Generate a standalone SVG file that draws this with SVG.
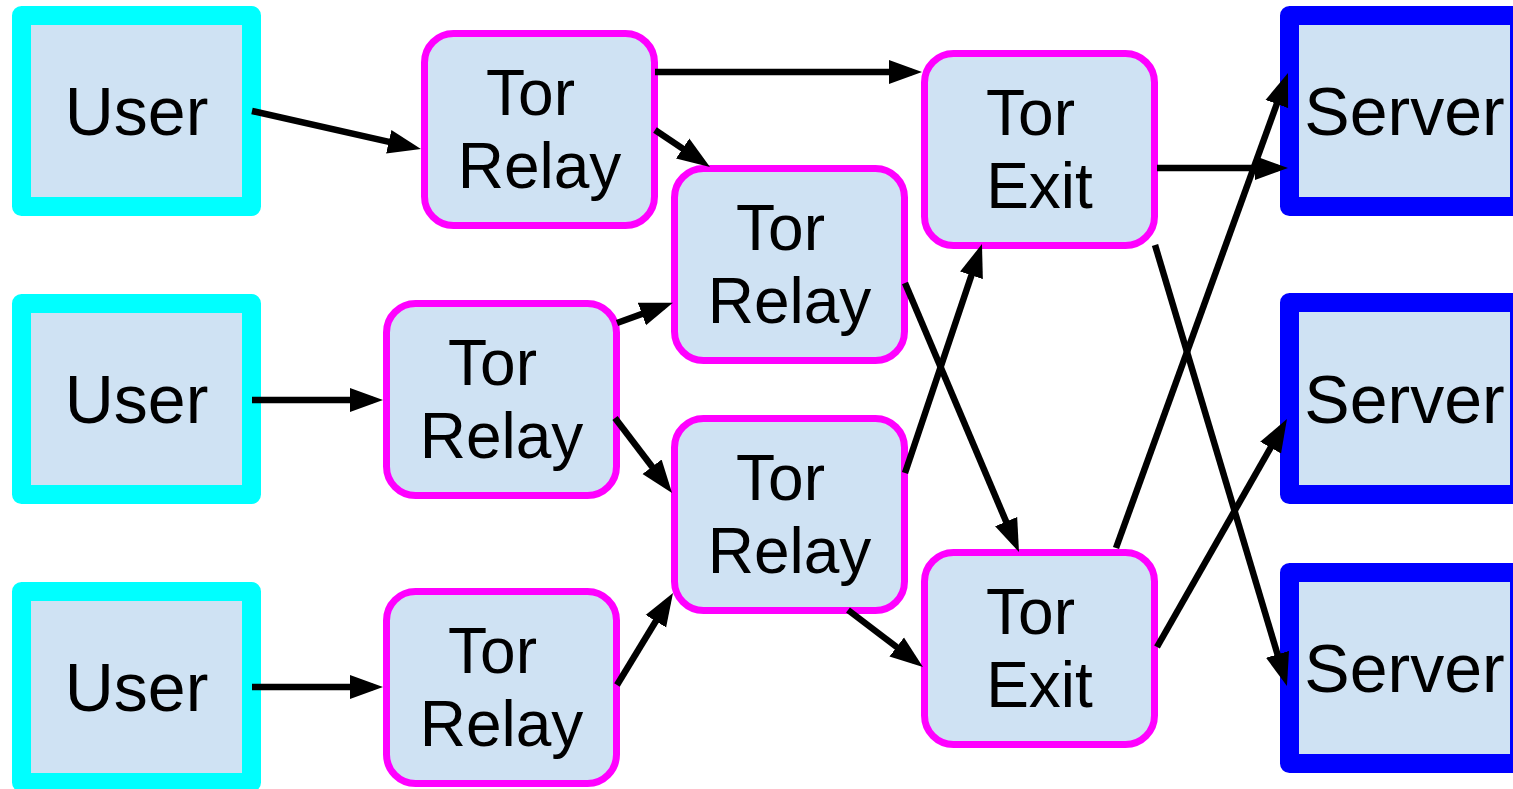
<svg xmlns="http://www.w3.org/2000/svg" width="1513" height="789" viewBox="0 0 1513 789">
  <style>
    .user { fill: #cfe2f3; stroke: #00ffff; stroke-width: 19; stroke-linejoin: round; }
    .server { fill: #cfe2f3; stroke: #0000ff; stroke-width: 19; stroke-linejoin: round; }
    .relay { fill: #cfe2f3; stroke: #ff00ff; stroke-width: 7; }
    .big { font-family: "Liberation Sans", Arial, sans-serif; font-size: 68px; fill: #000; text-anchor: middle; }
    .mid { font-family: "Liberation Sans", Arial, sans-serif; font-size: 64px; fill: #000; text-anchor: middle; }
    .link { fill: none; stroke: #000; stroke-width: 6.5; marker-end: url(#head); }
  </style>
  <defs>
    <!-- filled arrowhead; tip sits 10px past the end of each line -->
    <marker id="head" markerUnits="userSpaceOnUse" markerWidth="36" markerHeight="26" refX="23" refY="13" orient="auto">
      <path d="M0,1 L33,13 L0,25 Z" fill="#000"/>
    </marker>
  </defs>
  <rect width="1513" height="789" fill="#fff"/>

  <!-- users -->
  <g id="user1"><rect class="user" x="21.5" y="15.5" width="230" height="191"/><text class="big" x="136.5" y="135">User</text></g>
  <g id="user2"><rect class="user" x="21.5" y="303.5" width="230" height="191"/><text class="big" x="136.5" y="423">User</text></g>
  <g id="user3"><rect class="user" x="21.5" y="591.5" width="230" height="191"/><text class="big" x="136.5" y="711">User</text></g>

  <!-- relays -->
  <g id="relay1"><rect class="relay" x="424.5" y="33.5" width="230" height="192" rx="29"/><text class="mid" x="530.5" y="115">Tor</text><text class="mid" x="539.5" y="188">Relay</text></g>
  <g id="relay2"><rect class="relay" x="674.5" y="168.5" width="230" height="192" rx="29"/><text class="mid" x="780.5" y="250">Tor</text><text class="mid" x="789.5" y="323">Relay</text></g>
  <g id="relay3"><rect class="relay" x="386.5" y="303.5" width="230" height="192" rx="29"/><text class="mid" x="492.5" y="385">Tor</text><text class="mid" x="501.5" y="458">Relay</text></g>
  <g id="relay4"><rect class="relay" x="674.5" y="418.5" width="230" height="192" rx="29"/><text class="mid" x="780.5" y="500">Tor</text><text class="mid" x="789.5" y="573">Relay</text></g>
  <g id="relay5"><rect class="relay" x="386.5" y="591.5" width="230" height="192" rx="29"/><text class="mid" x="492.5" y="673">Tor</text><text class="mid" x="501.5" y="746">Relay</text></g>

  <!-- exits -->
  <g id="exit1"><rect class="relay" x="924.5" y="53.5" width="230" height="192" rx="29"/><text class="mid" x="1030.5" y="135">Tor</text><text class="mid" x="1039.5" y="208">Exit</text></g>
  <g id="exit2"><rect class="relay" x="924.5" y="552.5" width="230" height="192" rx="29"/><text class="mid" x="1030.5" y="634">Tor</text><text class="mid" x="1039.5" y="707">Exit</text></g>

  <!-- servers -->
  <g id="server1"><rect class="server" x="1289.5" y="15.5" width="230" height="191"/><text class="big" x="1404.5" y="135">Server</text></g>
  <g id="server2"><rect class="server" x="1289.5" y="302.5" width="230" height="192"/><text class="big" x="1404.5" y="423">Server</text></g>
  <g id="server3"><rect class="server" x="1289.5" y="572.5" width="230" height="191"/><text class="big" x="1404.5" y="692">Server</text></g>

  <!-- connectors -->
  <g id="connectors">
    <path class="link" d="M252,111 L411.2,146.8"/>
    <path class="link" d="M252,400 L373,400"/>
    <path class="link" d="M252,687 L373,687"/>
    <path class="link" d="M655,72 L912,72"/>
    <path class="link" d="M655,130 L701.7,161.4"/>
    <path class="link" d="M617,323 L663.5,306.1"/>
    <path class="link" d="M615,418 L666,485"/>
    <path class="link" d="M617,685 L667.8,601.5"/>
    <path class="link" d="M905,473 L978.8,253.5"/>
    <path class="link" d="M905,283 L1015.1,542.8"/>
    <path class="link" d="M848,610 L915,661"/>
    <path class="link" d="M1157,168 L1278,168"/>
    <path class="link" d="M1116,548 L1284.6,82.4"/>
    <path class="link" d="M1155,245 L1284.1,676.4"/>
    <path class="link" d="M1157,647 L1282,427.7"/>
  </g>
</svg>
